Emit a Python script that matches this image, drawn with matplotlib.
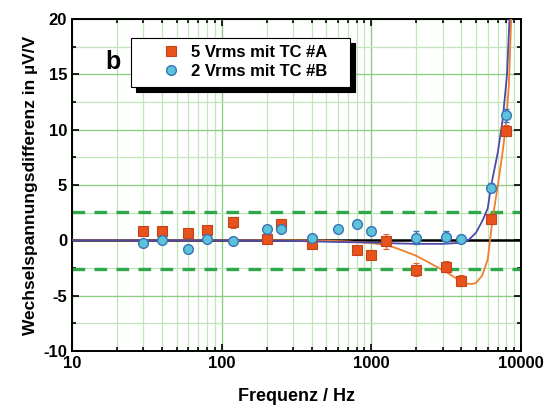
import numpy as np
import matplotlib
matplotlib.use("Agg")
import matplotlib.pyplot as plt
from matplotlib.lines import Line2D
from matplotlib.ticker import LogLocator, MultipleLocator, NullFormatter

plt.rcParams['font.family'] = ['Liberation Sans', 'DejaVu Sans']
plt.rcParams['font.weight'] = 'bold'
plt.rcParams['axes.unicode_minus'] = False

# measured points, series A (5 Vrms, TC #A)
freq_a = [30, 40, 60, 80, 120, 200, 250, 400, 800, 1000, 1250, 2000, 3150, 4000, 6300, 8000]
diff_a = [0.84, 0.84, 0.69, 0.93, 1.65, 0.15, 1.47, -0.36, -0.84, -1.29, -0.10, -2.64, -2.40, -3.66, 1.95, 9.90]
err_a = [0.2, 0.2, 0.2, 0.2, 0.5, 0.3, 0.5, 0.2, 0.2, 0.2, 0.7, 0.6, 0.5, 0.5, 0.4, 0.5]

# measured points, series B (2 Vrms, TC #B)
freq_b = [30, 40, 60, 80, 120, 200, 250, 400, 600, 800, 1000, 2000, 3150, 4000, 6300, 8000]
diff_b = [-0.21, 0.06, -0.78, 0.09, -0.09, 1.02, 1.02, 0.21, 0.99, 1.44, 0.81, 0.24, 0.30, 0.12, 4.77, 11.30]
err_b = [0.2, 0.2, 0.2, 0.2, 0.2, 0.2, 0.2, 0.2, 0.2, 0.2, 0.2, 0.6, 0.5, 0.4, 0.4, 0.6]

# fitted curves
fit_freq_a = [10, 100, 300, 500, 700, 1000, 1250, 1500, 2000, 2500, 3200, 3850, 4400, 4700,
              5000, 5500, 6000, 6460, 7000, 7530, 7950, 8300, 8600, 8700]
fit_diff_a = [0.0, 0.0, 0.0, -0.03, -0.1, -0.25, -0.41, -0.75, -1.4, -2.1, -2.9, -3.6, -3.92, -3.95,
              -3.85, -3.2, -1.7, 1.94, 4.94, 7.94, 10.5, 14.0, 20.0, 22.0]
fit_freq_b = [10, 100, 300, 600, 1000, 1500, 2000, 3000, 3900, 4500, 5000, 5540, 6000, 6310,
              7000, 7550, 8070, 8380, 8500]
fit_diff_b = [0.0, 0.0, -0.05, -0.15, -0.2, -0.28, -0.32, -0.32, -0.23, 0.08, 0.68, 1.8, 2.9, 4.9,
              7.94, 10.95, 15.0, 20.0, 22.0]

limit = 2.6

fig = plt.figure(figsize=(5.55, 4.07), dpi=100)
ax = fig.add_axes([0.1297, 0.1376, 0.809, 0.8157])

ax.set_xscale('log')
ax.set_xlim(10, 10000)
ax.set_ylim(-10, 20)

# grid
ax.xaxis.set_minor_locator(LogLocator(base=10, subs=np.arange(2, 10)))
ax.xaxis.set_minor_formatter(NullFormatter())
ax.yaxis.set_major_locator(MultipleLocator(5))
ax.yaxis.set_minor_locator(MultipleLocator(2.5))
ax.grid(which='major', color='#8fcc85', lw=1.0, zorder=0)
ax.grid(which='minor', color='#c3e5bc', lw=0.9, zorder=0)
ax.set_axisbelow(True)

ax.axhline(limit, color='#2ea84a', lw=2.4, ls=(0, (3.8, 2.8)), zorder=1)
ax.axhline(-limit, color='#2ea84a', lw=2.4, ls=(0, (3.8, 2.8)), zorder=1)
ax.axhline(0, color='black', lw=1.8, zorder=2)

ax.plot(fit_freq_a, fit_diff_a, color='#f07f2e', lw=1.3, zorder=3)
ax.plot(fit_freq_b, fit_diff_b, color='#4f4aa8', lw=1.3, zorder=3)

sq = dict(marker='s', ms=6.5, mfc='#e8521c', mec='#c0451a', mew=0.8)
ci = dict(marker='o', ms=7, mfc='#5cc3d9', mec='#3a72b8', mew=1.0)

ax.errorbar(freq_a, diff_a, yerr=err_a, ls='none', ecolor='#e8602a', elinewidth=1.0,
            capsize=2.5, zorder=4, **sq)
ax.errorbar(freq_b, diff_b, yerr=err_b, ls='none', ecolor='#3a72b8', elinewidth=1.0,
            capsize=2.5, zorder=5, **ci)

ax.tick_params(which='both', direction='in', top=True, right=True, width=1.2,
               labelsize=12)
ax.tick_params(which='major', length=5)
ax.tick_params(which='minor', length=3)
ax.set_xticks([10, 100, 1000, 10000])
ax.set_xticklabels(['10', '100', '1000', '10000'])
for s in ax.spines.values():
    s.set_linewidth(1.4)

ax.set_xlabel('Frequenz / Hz', fontsize=13, fontweight='bold', labelpad=12)
ax.set_ylabel('Wechselspannungsdifferenz in µV/V', fontsize=12.5, fontweight='bold', labelpad=4)

ax.text(0.091, 0.87, 'b', transform=ax.transAxes, fontsize=18, fontweight='bold',
        ha='center', va='center')

handles = [Line2D([], [], ls='none', **sq), Line2D([], [], ls='none', **ci)]
labels = ['5 Vrms mit TC #A', '2 Vrms mit TC #B']
leg = ax.legend(handles, labels, loc='upper left', bbox_to_anchor=(0.131, 0.798, 0.488, 0.146),
                mode='expand', fontsize=12, frameon=True, fancybox=False, borderaxespad=0,
                handlelength=3.9, handletextpad=-0.76, borderpad=0.45, labelspacing=0.25,
                shadow={'color': 'black', 'alpha': 1.0, 'ox': 4, 'oy': -4})
leg.get_frame().set_edgecolor('black')
leg.get_frame().set_linewidth(0.8)

fig.savefig('out.png', dpi=100)
